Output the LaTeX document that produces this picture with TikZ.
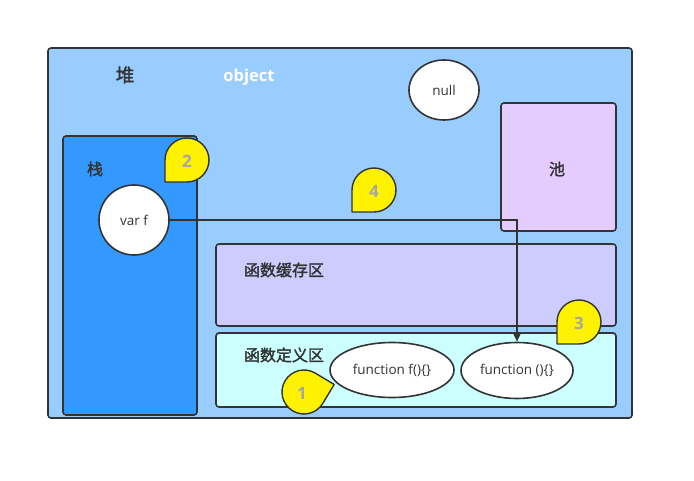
\documentclass[tikz,border=0pt]{standalone}
\usepackage{fontspec}
\setmainfont{Open Sans}
\newfontfamily\cjkb[FakeBold=1.8]{Noto Sans CJK SC}
\usetikzlibrary{arrows.meta,shapes.geometric}
\definecolor{heapc}{HTML}{99CCFF}
\definecolor{stackc}{HTML}{3399FF}
\definecolor{poolc}{HTML}{E5CCFF}
\definecolor{cachec}{HTML}{CCCCFF}
\definecolor{defc}{HTML}{CCFFFF}
\definecolor{edge}{HTML}{333333}
\definecolor{numc}{HTML}{A6A6A6}
\tikzset{
  box/.style={draw=edge, line width=1.6pt, rounded corners=3pt, inner sep=0pt},
  oval/.style={draw=edge, line width=1.6pt, fill=white, ellipse, inner sep=0pt, font=\fontsize{13.5}{15}\selectfont, text=edge},
  cjklabel/.style={font=\cjkb\fontsize{16}{18}\selectfont, text=edge},
  numstyle/.style={font=\bfseries\fontsize{17}{19}\selectfont, text=numc},
  pics/bubble/.style={code={
    \draw[draw=edge, line width=1.4pt, fill=yellow, line join=round]
      (-22,22) -- (-22,0) arc[start angle=180, end angle=450, radius=22] -- cycle;
  }},
  link/.style={draw=edge, line width=1.6pt, -{Triangle[length=8pt,width=7pt]}}
}
\begin{document}
\begin{tikzpicture}[x=1pt, y=-1pt]
\useasboundingbox (0,0) rectangle (694,481);
\fill[white] (0,0) rectangle (694,481);
% heap
\node[box, fill=heapc, minimum width=584pt, minimum height=370pt] (heap) at (340,233) {};
\node[cjklabel, font=\cjkb\fontsize{18.5}{20}\selectfont] (heaplbl) at (125,75) {堆};
\node[font=\bfseries\fontsize{16.5}{18}\selectfont, text=white] (obj) at (249,77) {object};
% null
\node[oval, minimum width=70pt, minimum height=60pt] (null) at (444,90) {null};
% pool
\node[box, fill=poolc, minimum width=115pt, minimum height=128pt] (pool) at (558.5,167) {};
\node[cjklabel] (poollbl) at (557,169) {池};
% stack
\node[box, fill=stackc, minimum width=134pt, minimum height=279pt] (stack) at (130,275.5) {};
\node[cjklabel] (stacklbl) at (95,169) {栈};
\node[oval, minimum width=70pt, minimum height=70pt] (varf) at (134,220) {var f};
% cache area
\node[box, fill=cachec, minimum width=400pt, minimum height=82pt] (cache) at (416,285) {};
\node[cjklabel] (cachelbl) at (284,270) {函数缓存区};
% definition area
\node[box, fill=defc, minimum width=400pt, minimum height=74pt] (def) at (416,370) {};
\node[cjklabel] (deflbl) at (284,355) {函数定义区};
\node[oval, minimum width=124pt, minimum height=55pt] (fnf) at (392,370) {function f()\{\}};
\node[oval, minimum width=112pt, minimum height=56pt] (fnanon) at (517,370.5) {function ()\{\}};
% connector
\draw[link] (varf.east) -| (fnanon.north);
% bubbles
\pic at (187,160) {bubble};
\node[numstyle] (n2) at (187,161) {2};
\pic at (374,190) {bubble};
\node[numstyle] (n4) at (374,191) {4};
\pic at (579,322) {bubble};
\node[numstyle] (n3) at (579,323) {3};
\pic[rotate=149] at (304,392) {bubble};
\node[numstyle] (n1) at (302,393) {1};
\end{tikzpicture}
\end{document}
